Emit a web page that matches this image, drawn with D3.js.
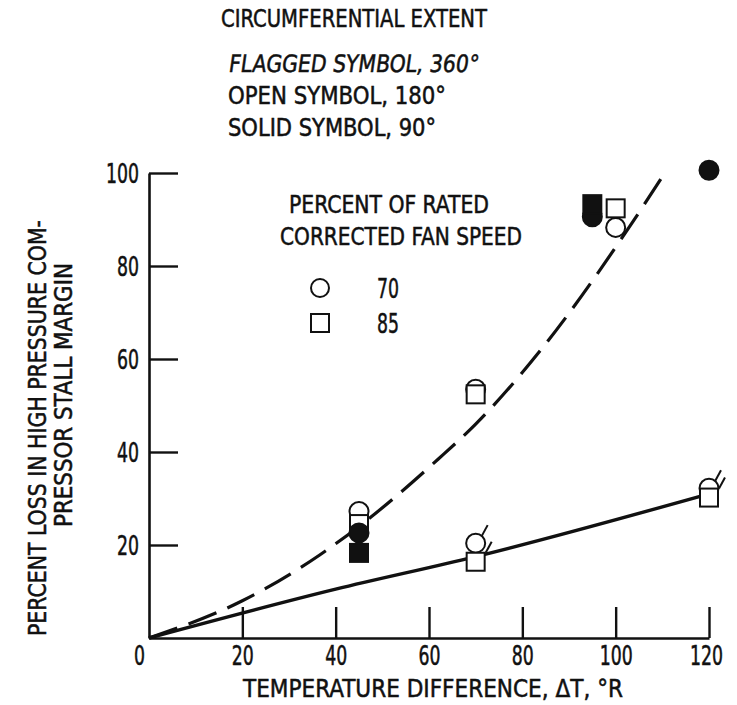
<!DOCTYPE html>
<html>
<head>
<meta charset="utf-8">
<script src="https://cdn.jsdelivr.net/npm/d3@7"></script>
<style>
  html, body { margin: 0; padding: 0; background: #fff; }
  svg text { font-family: 'Liberation Sans Narrow', 'DejaVu Sans Condensed', Roboto, sans-serif; fill: #111; stroke: #111; stroke-width: 0.5px; }
</style>
</head>
<body>
<svg id="chart" width="737" height="705"></svg>
<script>
// ---- data ----
const xTicks = [0, 20, 40, 60, 80, 100, 120];
const yTicks = [20, 40, 60, 80, 100];

// [deltaT (°R), percent loss in stall margin]
const open70    = [[45, 27.2], [70, 53.5], [100, 88.3]];   // open circle: 180°, 70 %
const open85    = [[45, 24.5], [70, 52.4], [100, 92.4]];   // open square: 180°, 85 %
const solid70   = [[45, 22.6], [95, 90.6], [120, 100.6]];  // solid circle: 90°, 70 %
const solid85   = [[45, 18.3], [95, 93.3]];                // solid square: 90°, 85 %
const flagged70 = [[70, 20.4], [120, 32.2]];               // flagged circle: 360°, 70 %
const flagged85 = [[70, 16.4], [120, 30.2]];               // flagged square: 360°, 85 %

const dashedCurve = [[0, 0], [20, 8], [36.5, 17.8], [45, 24], [62, 38.5], [70, 46], [84, 62], [102, 87], [110.5, 100]];
const solidLine   = [[0, 0], [40, 10.5], [70, 17.5], [120, 31]];

const titleLines  = ["CIRCUMFERENTIAL EXTENT", "FLAGGED SYMBOL, 360°", "OPEN SYMBOL, 180°", "SOLID SYMBOL, 90°"];
const legendTitle = ["PERCENT OF RATED", "CORRECTED FAN SPEED"];
const legendItems = [{shape: "circle", label: "70"}, {shape: "square", label: "85"}];
const xTitle = "TEMPERATURE DIFFERENCE, \u0394T, \u00B0R";
const yTitle = ["PERCENT LOSS IN HIGH PRESSURE COM-", "PRESSOR STALL MARGIN"];

// ---- drawing ----
const svg = d3.select("#chart");
const x = d3.scaleLinear().domain([0, 120]).range([149, 709]);
const y = d3.scaleLinear().domain([0, 100]).range([638, 173]);

const R = 9.5, S = 18;

function fit(sel, len) {
  sel.attr("textLength", len).attr("lengthAdjust", "spacingAndGlyphs");
}

// axes
const xAxis = d3.axisBottom(x).tickValues(xTicks).tickSize(-31).tickSizeOuter(0).tickPadding(9);
const gx = svg.append("g").attr("transform", `translate(0,${y(0)})`).call(xAxis);
gx.selectAll(".tick").filter(d => d === 0).select("line").remove();
gx.selectAll(".tick").filter(d => d === 0).select("text").attr("x", -10);

const yAxis = d3.axisLeft(y).tickValues(yTicks).tickSize(-29).tickSizeOuter(0).tickPadding(10);
const gy = svg.append("g").attr("transform", `translate(${x(0)},0)`).call(yAxis);
gy.selectAll("text").attr("dy", "0.37em");

svg.selectAll("g").attr("font-family", null).attr("font-size", null);
svg.selectAll(".tick text").attr("font-size", 26).attr("fill", "#111")
  .attr("textLength", d => String(d).length * 11).attr("lengthAdjust", "spacingAndGlyphs");
gx.selectAll(".tick").filter(d => d === 120).select("text").attr("x", -3);
svg.selectAll(".domain").attr("stroke", "#111").attr("stroke-width", 2.6);
svg.selectAll(".tick line").attr("stroke", "#111").attr("stroke-width", 2.4);

// curves
const line = d3.line().x(d => x(d[0])).y(d => y(d[1])).curve(d3.curveMonotoneX);
svg.append("path").datum(dashedCurve).attr("d", line)
  .attr("fill", "none").attr("stroke", "#111").attr("stroke-width", 3.2)
  .attr("stroke-dasharray", "30,12");
svg.append("path").datum(solidLine).attr("d", line)
  .attr("fill", "none").attr("stroke", "#111").attr("stroke-width", 3.4);

// markers
function circles(data, filled) {
  svg.append("g").selectAll("circle").data(data).join("circle")
    .attr("cx", d => x(d[0])).attr("cy", d => y(d[1])).attr("r", R)
    .attr("fill", filled ? "#111" : "#fff").attr("stroke", "#111").attr("stroke-width", 2);
}
function squares(data, filled) {
  svg.append("g").selectAll("rect").data(data).join("rect")
    .attr("x", d => x(d[0]) - S / 2).attr("y", d => y(d[1]) - S / 2)
    .attr("width", S).attr("height", S)
    .attr("fill", filled ? "#111" : "#fff").attr("stroke", "#111").attr("stroke-width", 2);
}
function flags(data, dx0, dy0) {
  svg.append("g").selectAll("line").data(data).join("line")
    .attr("x1", d => x(d[0]) + dx0).attr("y1", d => y(d[1]) + dy0)
    .attr("x2", d => x(d[0]) + dx0 + 6).attr("y2", d => y(d[1]) + dy0 - 11)
    .attr("stroke", "#111").attr("stroke-width", 2);
}

circles(open70, false);
squares(open85, false);
circles(flagged70, false);
squares(flagged85, false);
flags(flagged70, 6, -7);
flags(flagged85, 10, -9);
circles(solid70, true);
squares(solid85, true);

// header text
const header = svg.append("g").attr("font-size", 24);
fit(header.append("text").attr("x", 221).attr("y", 27).text(titleLines[0]), 266);
fit(header.append("text").attr("transform", "translate(228,72) skewX(-8)").text(titleLines[1]), 250);
fit(header.append("text").attr("x", 228).attr("y", 104).text(titleLines[2]), 218);
fit(header.append("text").attr("x", 228).attr("y", 136).text(titleLines[3]), 208);

// legend
const lg = svg.append("g").attr("font-size", 24);
fit(lg.append("text").attr("x", 289).attr("y", 213).text(legendTitle[0]), 200);
fit(lg.append("text").attr("x", 280).attr("y", 245).text(legendTitle[1]), 242);
legendItems.forEach((it, i) => {
  const cy = 288 + i * 35;
  if (it.shape === "circle") {
    lg.append("circle").attr("cx", 320).attr("cy", cy).attr("r", 9)
      .attr("fill", "#fff").attr("stroke", "#111").attr("stroke-width", 2);
  } else {
    lg.append("rect").attr("x", 320 - S / 2).attr("y", cy - S / 2).attr("width", S).attr("height", S)
      .attr("fill", "#fff").attr("stroke", "#111").attr("stroke-width", 2);
  }
  fit(lg.append("text").attr("x", 377).attr("y", cy + 10).attr("font-size", 27).text(it.label), 22);
});

// axis titles
fit(svg.append("text").attr("x", 243).attr("y", 697).attr("font-size", 25).text(xTitle), 380);
fit(svg.append("text").attr("transform", "translate(46,636) rotate(-90)").attr("font-size", 25).text(yTitle[0]), 416);
fit(svg.append("text").attr("transform", "translate(72,527) rotate(-90)").attr("font-size", 25).text(yTitle[1]), 264);
</script>
</body>
</html>
